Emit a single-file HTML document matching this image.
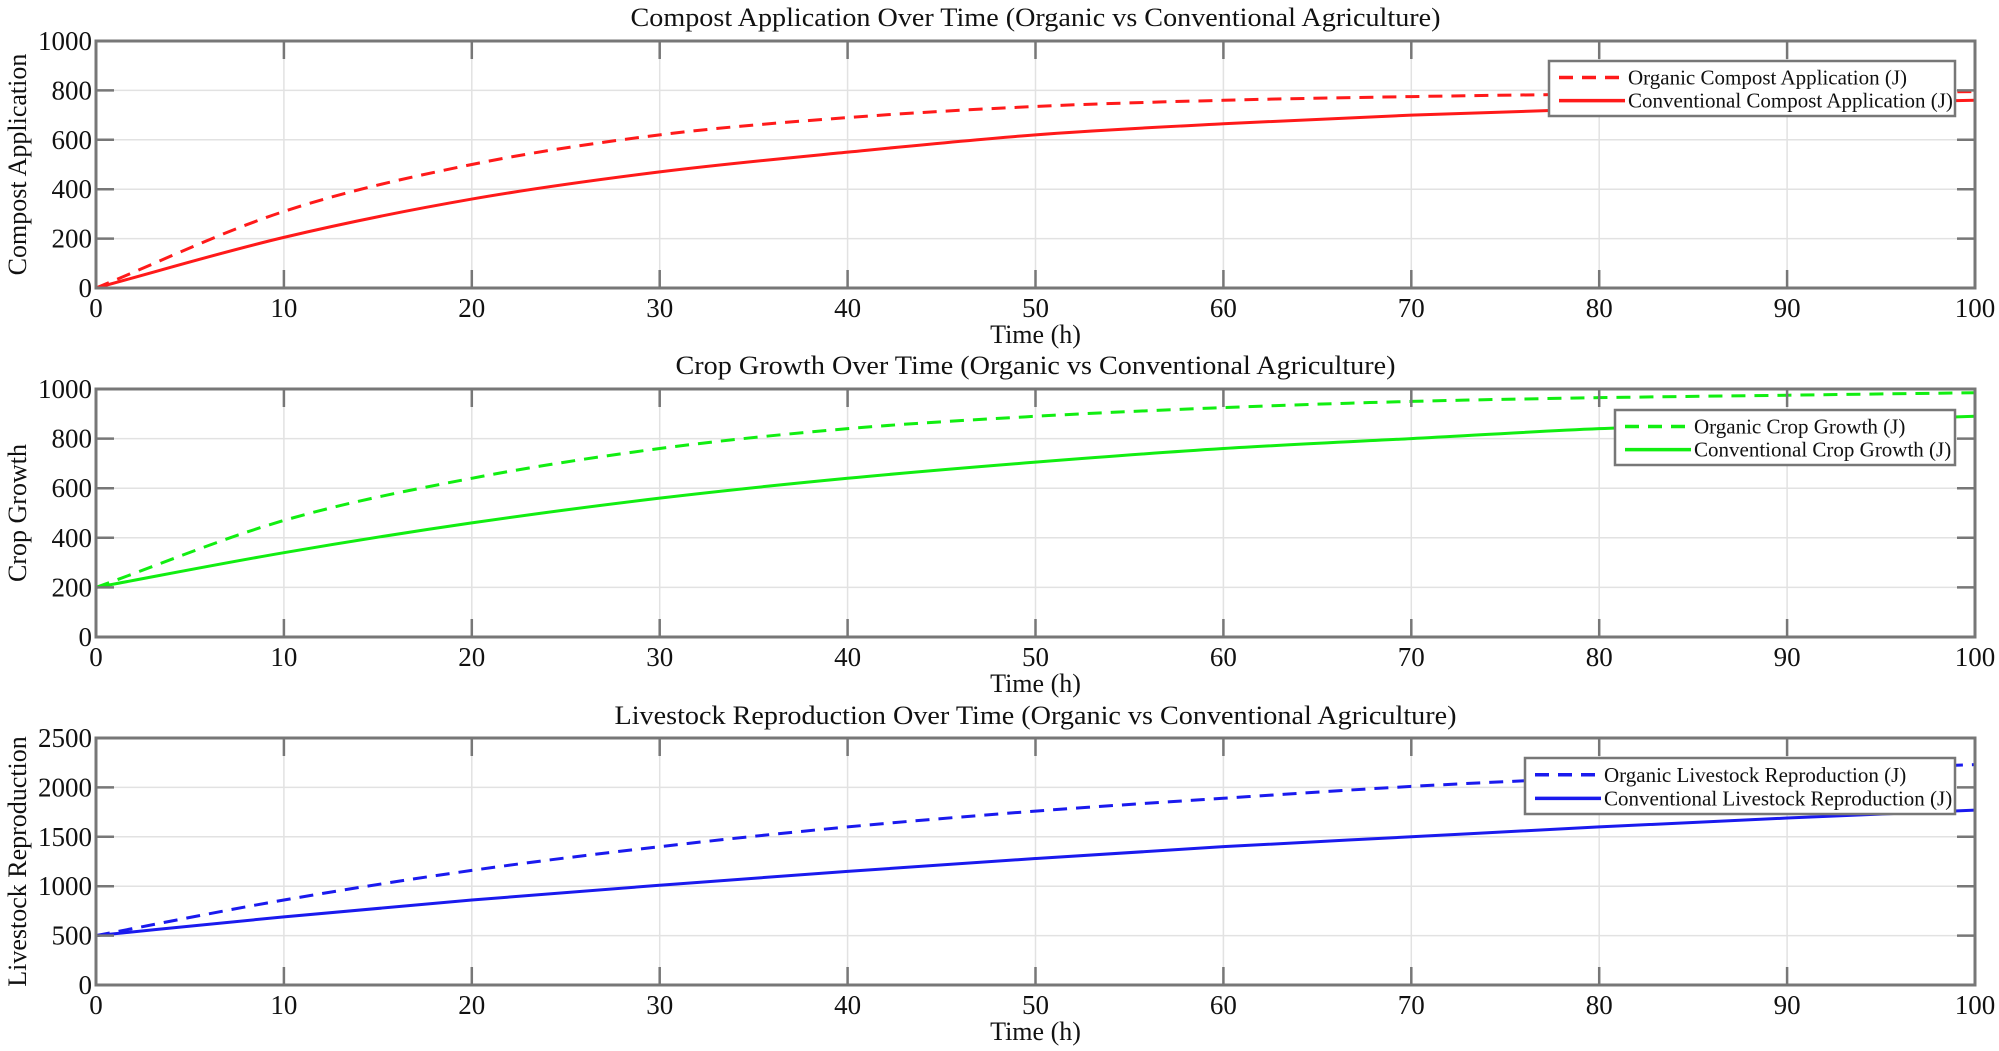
<!DOCTYPE html>
<html><head><meta charset="utf-8"><style>
html,body{margin:0;padding:0;background:#fff}
svg{display:block;font-family:"Liberation Serif",serif}
</style></head><body>
<svg id="chart" width="1999" height="1051" viewBox="0 0 1999 1051" xmlns="http://www.w3.org/2000/svg"></svg>
<script>
const timeTicks=[0,10,20,30,40,50,60,70,80,90,100];
const compostOrganic=[0,310,500,620,690,735,760,775,785,790,795];
const compostConventional=[0,205,360,470,550,620,665,700,725,745,760];
const cropOrganic=[200,470,640,760,840,890,925,950,965,975,985];
const cropConventional=[200,340,460,560,640,705,760,800,840,865,890];
const livestockOrganic=[500,860,1160,1400,1600,1760,1890,2010,2100,2170,2230];
const livestockConventional=[500,690,860,1010,1150,1280,1400,1500,1600,1690,1770];
const compostYTicks=[0,200,400,600,800,1000];
const cropYTicks=[0,200,400,600,800,1000];
const livestockYTicks=[0,500,1000,1500,2000,2500];

const NS="http://www.w3.org/2000/svg";
const svg=document.getElementById('chart');
function mk(tag,attrs,parent){const e=document.createElementNS(NS,tag);for(const k in attrs)e.setAttribute(k,attrs[k]);(parent||svg).appendChild(e);return e;}
const X0=96,X1=1975;
const panels=[
 {top:41,bot:288,ymax:1000,yt:compostYTicks,s1:compostOrganic,s2:compostConventional,col:'#ff1a1a',title:'Compost Application Over Time (Organic vs Conventional Agriculture)',ylab:'Compost Application',l1:'Organic Compost Application (J)',l2:'Conventional Compost Application (J)',lg:[1549,61,1955,116],key:'compost',titleY:26,tl:810},
 {top:389,bot:637,ymax:1000,yt:cropYTicks,s1:cropOrganic,s2:cropConventional,col:'#11ee11',title:'Crop Growth Over Time (Organic vs Conventional Agriculture)',ylab:'Crop Growth',l1:'Organic Crop Growth (J)',l2:'Conventional Crop Growth (J)',lg:[1615,410,1955,465],key:'crop',titleY:374,tl:720},
 {top:738,bot:985,ymax:2500,yt:livestockYTicks,s1:livestockOrganic,s2:livestockConventional,col:'#1a1aee',title:'Livestock Reproduction Over Time (Organic vs Conventional Agriculture)',ylab:'Livestock Reproduction',l1:'Organic Livestock Reproduction (J)',l2:'Conventional Livestock Reproduction (J)',lg:[1525,758,1955,814],key:'livestock',titleY:724,tl:842}
];
function xs(t){return X0+(t-0)/100*(X1-X0);}
function pathFor(vals,ys){
 const pts=timeTicks.map((t,i)=>[xs(t),ys(vals[i])]);
 const n=pts.length;const m=[];
 for(let i=0;i<n;i++){
  const a=pts[Math.max(0,i-1)],b=pts[Math.min(n-1,i+1)];
  m.push((b[1]-a[1])/(b[0]-a[0]));
 }
 let d='M'+pts[0][0]+','+pts[0][1];
 for(let i=0;i<n-1;i++){
  const h=pts[i+1][0]-pts[i][0];
  d+=' C'+(pts[i][0]+h/3)+','+(pts[i][1]+m[i]*h/3)+' '+(pts[i+1][0]-h/3)+','+(pts[i+1][1]-m[i+1]*h/3)+' '+pts[i+1][0]+','+pts[i+1][1];
 }
 return d;
}
panels.forEach(p=>{
 const g=mk('g',{});
 
 
 const ys=v=>p.bot-v/p.ymax*(p.bot-p.top);
 timeTicks.forEach(t=>{
  const l=mk('line',{x1:xs(t),x2:xs(t),y1:p.top,y2:p.bot,stroke:'#e2e2e2','stroke-width':1.5},g);
  
  
 });
 p.yt.forEach(v=>{
  const l=mk('line',{x1:X0,x2:X1,y1:ys(v),y2:ys(v),stroke:'#e2e2e2','stroke-width':1.5},g);
  
  
 });
 const c=mk('path',{d:pathFor(p.s2,ys),fill:'none',stroke:p.col,'stroke-width':3},g);
 
 
 const o=mk('path',{d:pathFor(p.s1,ys),fill:'none',stroke:p.col,'stroke-width':3,'stroke-dasharray':'14,9'},g);
 
 
 timeTicks.forEach(t=>{
  mk('line',{x1:xs(t),x2:xs(t),y1:p.bot,y2:p.bot-18,stroke:'#777','stroke-width':2.5},g);
  mk('line',{x1:xs(t),x2:xs(t),y1:p.top,y2:p.top+18,stroke:'#777','stroke-width':2.5},g);
  const tx=mk('text',{x:xs(t),y:p.bot+29,'font-size':27,'text-anchor':'middle',fill:'#111'},g);
  tx.textContent=t;
  
  
 });
 p.yt.forEach(v=>{
  mk('line',{x1:X0,x2:X0+18,y1:ys(v),y2:ys(v),stroke:'#777','stroke-width':2.5},g);
  mk('line',{x1:X1,x2:X1-18,y1:ys(v),y2:ys(v),stroke:'#777','stroke-width':2.5},g);
  const tx=mk('text',{x:X0-4,y:ys(v)+9,'font-size':27,'text-anchor':'end',fill:'#111'},g);
  tx.textContent=v;
  
  
 });
 const box=mk('rect',{x:X0,y:p.top,width:X1-X0,height:p.bot-p.top,fill:'none',stroke:'#777','stroke-width':3},g);
 
 
 const ti=mk('text',{x:(X0+X1)/2,y:p.titleY,'font-size':26,'text-anchor':'middle',fill:'#111',textLength:p.tl,lengthAdjust:'spacingAndGlyphs'},g);
 ti.textContent=p.title;
 
 
 const xl=mk('text',{x:(X0+X1)/2,y:p.bot+55,'font-size':26,'text-anchor':'middle',fill:'#111'},g);
 xl.textContent='Time (h)';
 
 
 const cy=(p.top+p.bot)/2;
 const yl=mk('text',{x:0,y:0,'font-size':26,'text-anchor':'middle',fill:'#111',transform:'translate(26,'+cy+') rotate(-90)'},g);
 yl.textContent=p.ylab;
 
 
 const [lx0,ly0,lx1,ly1]=p.lg;
 const lg=mk('g',{},g);
 
 
 mk('rect',{x:lx0,y:ly0,width:lx1-lx0,height:ly1-ly0,fill:'#fff',stroke:'#777','stroke-width':2.5},lg);
 const r1=ly0+(ly1-ly0)*0.3,r2=ly0+(ly1-ly0)*0.72;
 mk('line',{x1:lx0+10,x2:lx0+76,y1:r1,y2:r1,stroke:p.col,'stroke-width':3.5,'stroke-dasharray':'14,9'},lg);
 mk('line',{x1:lx0+10,x2:lx0+76,y1:r2,y2:r2,stroke:p.col,'stroke-width':3.5},lg);
 const e1=mk('text',{x:lx0+79,y:r1+7,'font-size':21,fill:'#111'},lg);
 e1.textContent=p.l1;
 
 
 const e2=mk('text',{x:lx0+79,y:r2+7,'font-size':21,fill:'#111'},lg);
 e2.textContent=p.l2;
 
 
});
</script>
</body></html>
